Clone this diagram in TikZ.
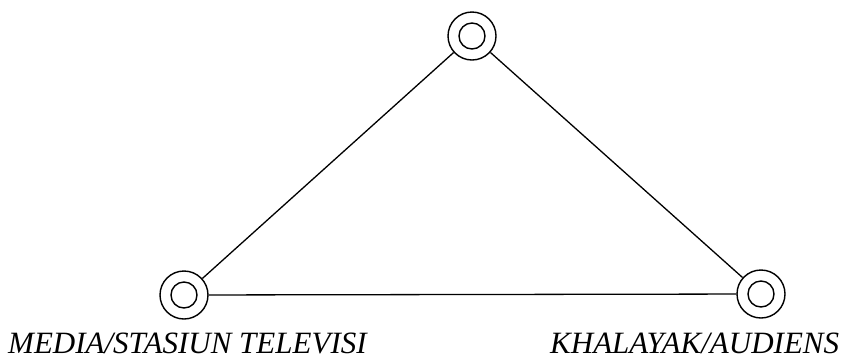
\documentclass[tikz,border=0pt]{standalone}
\usepackage{fontspec}
\setmainfont{Liberation Serif}
\begin{document}
\begin{tikzpicture}[x=1pt,y=-1pt,
  ring/.style={circle,draw,line width=1.4pt,minimum size=48pt,inner sep=0pt},
  inner/.style={circle,draw,line width=1.4pt,minimum size=26pt,inner sep=0pt},
  link/.style={line width=1.3pt},
  lbl/.style={font=\fontsize{31}{36}\selectfont\itshape,inner sep=0pt,anchor=base west}]
\useasboundingbox (0,0) rectangle (849,360);
\node[ring] (top) at (472,36) {};
\node[inner] at (top.center) {};
\node[ring] (left) at (184,295) {};
\node[inner] at (left.center) {};
\node[ring] (right) at (761,294) {};
\node[inner] at (right.center) {};
\draw[link] (top) -- (left);
\draw[link] (top) -- (right);
\draw[link] (left) -- (right);
\node[lbl] (media) at (8,353.5) {MEDIA/STASIUN TELEVISI};
\node[lbl] (aud) at (550,353.5) {KHALAYAK/AUDIENS};
\end{tikzpicture}
\end{document}
